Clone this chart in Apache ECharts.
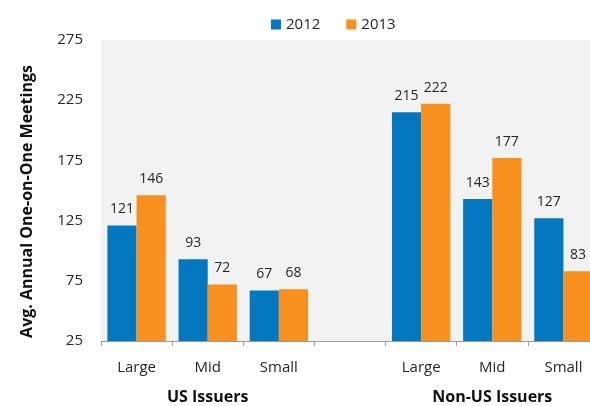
<!DOCTYPE html>
<html>
<head>
<meta charset="utf-8">
<script src="https://cdn.jsdelivr.net/npm/echarts@6/dist/echarts.min.js"></script>
<style>html,body{margin:0;padding:0;background:#fff;overflow:hidden;}#c{width:600px;height:406px;}</style>
</head>
<body>
<div id="c"></div>
<script>
const categories = ['Large', 'Mid', 'Small', '', 'Large', 'Mid', 'Small'];
const groupLabels = ['', 'US Issuers', '', '', '', 'Non-US Issuers', ''];
const series2012 = [121, 93, 67, null, 215, 143, 127];
const series2013 = [146, 72, 68, null, 222, 177, 83];
const yTicks = { min: 25, max: 275, interval: 50 };

const FONT = 'Open Sans';
const chart = echarts.init(document.getElementById('c'), null, { renderer: 'canvas' });
const labelCfg = { show: true, position: 'top', distance: 9, color: '#262626', fontSize: 14, fontFamily: FONT };
chart.setOption({
  animation: false,
  legend: {
    top: 12, left: 266, itemWidth: 10, itemHeight: 10, itemGap: 26,
    icon: 'rect',
    textStyle: { fontSize: 15, color: '#262626', fontFamily: FONT },
    data: ['2012', '2013']
  },
  grid: { left: 101, top: 40, width: 498, height: 301, show: true, backgroundColor: '#f2f2f2', borderWidth: 0 },
  xAxis: [{
    type: 'category', data: categories, position: 'bottom',
    axisLine: { lineStyle: { color: '#9a9a9a', width: 1 } },
    axisTick: { show: true, length: 5, lineStyle: { color: '#9a9a9a' } },
    axisLabel: { color: '#262626', fontSize: 15, fontFamily: FONT, margin: 19, interval: 0 }
  }, {
    type: 'category', data: groupLabels, position: 'bottom', offset: 48,
    axisLine: { show: false }, axisTick: { show: false },
    axisLabel: { color: '#111', fontSize: 16, fontWeight: 'bold', fontFamily: FONT, interval: 0, margin: 0 }
  }],
  yAxis: {
    type: 'value', min: yTicks.min, max: yTicks.max, interval: yTicks.interval,
    axisLine: { show: false }, axisTick: { show: false }, splitLine: { show: false },
    axisLabel: { color: '#262626', fontSize: 15, fontFamily: FONT, margin: 18 },
    name: 'Avg. Annual One-on-One Meetings', nameLocation: 'middle', nameGap: 66, nameRotate: 90,
    nameTextStyle: { fontSize: 16, fontWeight: 'bold', color: '#111', fontFamily: FONT, padding: [0, 22, 0, 0] }
  },
  series: [{
    name: '2012', type: 'bar', data: series2012, barGap: '0%', barCategoryGap: '18%',
    itemStyle: { color: '#0378c0' }, label: labelCfg
  }, {
    name: '2013', type: 'bar', data: series2013,
    itemStyle: { color: '#f7901e' }, label: labelCfg
  }]
});
</script>
</body>
</html>
